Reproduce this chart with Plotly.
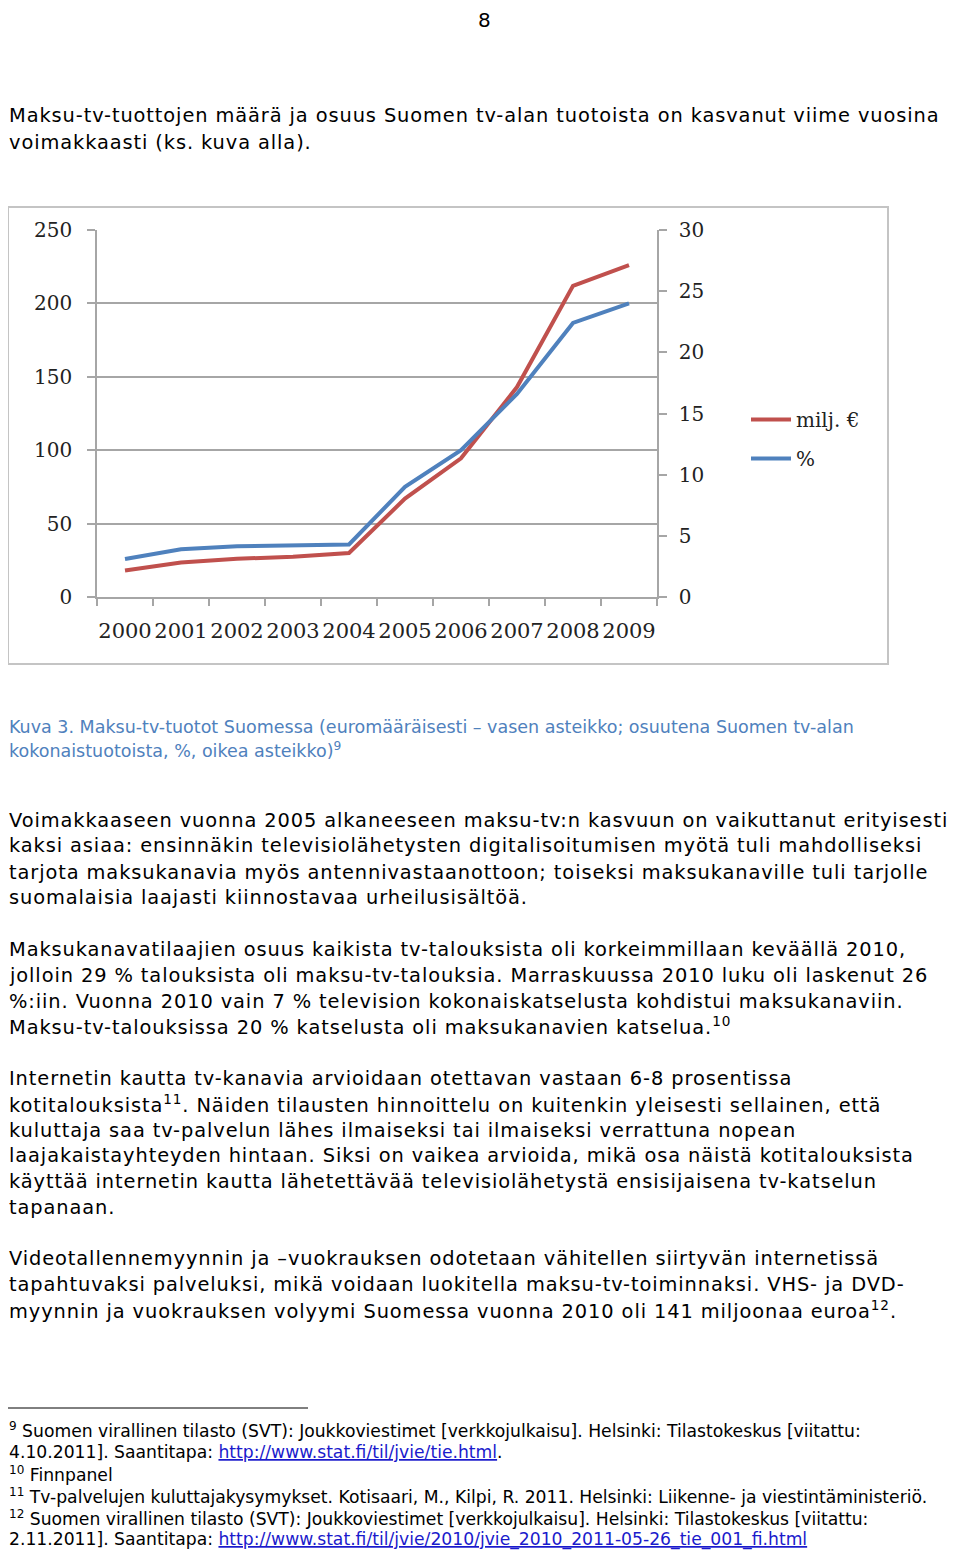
import plotly.graph_objects as go

# The page body has an 8px margin; keep the figure inside the 960x1558 window.
OFF = 8
W, H = 960 - 2 * OFF, 1558 - 2 * OFF

# ---- chart data ----
years = ["2000", "2001", "2002", "2003", "2004", "2005", "2006", "2007", "2008", "2009"]
milj_eur = [18, 23.5, 26, 27.5, 30, 67, 94.5, 143, 212, 226]
osuus_pct = [3.1, 3.9, 4.15, 4.2, 4.3, 9.0, 12.0, 16.6, 22.4, 24.0]
left_ticks = [0, 50, 100, 150, 200, 250]
right_ticks = [0, 5, 10, 15, 20, 25, 30]
series_names = ["milj. €", "%"]

# ---- page text ----
page_number = "8"
intro_lines = [
    "Maksu-tv-tuottojen määrä ja osuus Suomen tv-alan tuotoista on kasvanut viime vuosina",
    "voimakkaasti (ks. kuva alla).",
]
caption_lines = [
    "Kuva 3. Maksu-tv-tuotot Suomessa (euromääräisesti – vasen asteikko; osuutena Suomen tv-alan",
    "kokonaistuotoista, %, oikea asteikko)<sup>9</sup>",
]
para1 = [
    "Voimakkaaseen vuonna 2005 alkaneeseen maksu-tv:n kasvuun on vaikuttanut erityisesti",
    "kaksi asiaa: ensinnäkin televisiolähetysten digitalisoitumisen myötä tuli mahdolliseksi",
    "tarjota maksukanavia myös antennivastaanottoon; toiseksi maksukanaville tuli tarjolle",
    "suomalaisia laajasti kiinnostavaa urheilusisältöä.",
]
para2 = [
    "Maksukanavatilaajien osuus kaikista tv-talouksista oli korkeimmillaan keväällä 2010,",
    "jolloin 29 % talouksista oli maksu-tv-talouksia. Marraskuussa 2010 luku oli laskenut 26",
    "%:iin. Vuonna 2010 vain 7 % television kokonaiskatselusta kohdistui maksukanaviin.",
    "Maksu-tv-talouksissa 20 % katselusta oli maksukanavien katselua.<sup>10</sup>",
]
para3 = [
    "Internetin kautta tv-kanavia arvioidaan otettavan vastaan 6-8 prosentissa",
    "kotitalouksista<sup>11</sup>. Näiden tilausten hinnoittelu on kuitenkin yleisesti sellainen, että",
    "kuluttaja saa tv-palvelun lähes ilmaiseksi tai ilmaiseksi verrattuna nopean",
    "laajakaistayhteyden hintaan. Siksi on vaikea arvioida, mikä osa näistä kotitalouksista",
    "käyttää internetin kautta lähetettävää televisiolähetystä ensisijaisena tv-katselun",
    "tapanaan.",
]
para4 = [
    "Videotallennemyynnin ja –vuokrauksen odotetaan vähitellen siirtyvän internetissä",
    "tapahtuvaksi palveluksi, mikä voidaan luokitella maksu-tv-toiminnaksi. VHS- ja DVD-",
    "myynnin ja vuokrauksen volyymi Suomessa vuonna 2010 oli 141 miljoonaa euroa<sup>12</sup>.",
]
LINK = '<span style="color:#1a1acc;text-decoration:underline">{}</span>'
footnotes = [
    "<sup>9</sup> Suomen virallinen tilasto (SVT): Joukkoviestimet [verkkojulkaisu]. Helsinki: Tilastokeskus [viitattu:",
    "4.10.2011]. Saantitapa: " + LINK.format("http://www.stat.fi/til/jvie/tie.html") + ".",
    "<sup>10</sup> Finnpanel",
    "<sup>11</sup> Tv-palvelujen kuluttajakysymykset. Kotisaari, M., Kilpi, R. 2011. Helsinki: Liikenne- ja viestintäministeriö.",
    "<sup>12</sup> Suomen virallinen tilasto (SVT): Joukkoviestimet [verkkojulkaisu]. Helsinki: Tilastokeskus [viitattu:",
    "2.11.2011]. Saantitapa: " + LINK.format("http://www.stat.fi/til/jvie/2010/jvie_2010_2011-05-26_tie_001_fi.html"),
]


def px(x):
    return (x - OFF) / W


def py(y):
    return 1 - (y - OFF) / H


RED = "#c0504d"
BLUE = "#4f81bd"
AXC = "#a6a6a6"
SERIF = "DejaVu Serif"
BODY = "DejaVu Sans"

fig = go.Figure()
fig.add_trace(go.Scatter(x=years, y=milj_eur, name=series_names[0], mode="lines",
                         line=dict(color=RED, width=4), legendgroup="a", yaxis="y"))
fig.add_trace(go.Scatter(x=years, y=osuus_pct, name=series_names[1], mode="lines",
                         line=dict(color=BLUE, width=4), legendgroup="b", yaxis="y2"))

fig.update_layout(
    width=W, height=H,
    margin=dict(l=0, r=0, t=0, b=0, autoexpand=False),
    paper_bgcolor="white", plot_bgcolor="white",
    xaxis=dict(
        type="category", domain=[px(97), px(657)], automargin=False,
        range=[-0.5, len(years) - 0.5],
        showline=True, linecolor=AXC, linewidth=1.5,
        ticks="outside", tickson="boundaries", ticklen=7, tickcolor=AXC, tickwidth=1.5,
        showgrid=False, tickfont=dict(family=SERIF, size=21, color="#222"),
        tickangle=0, ticklabelstandoff=14, fixedrange=True,
    ),
    yaxis=dict(
        domain=[py(597), py(230)], range=[0, 250], tickvals=left_ticks, automargin=False,
        showline=True, linecolor=AXC, linewidth=1.5,
        ticks="outside", ticklen=8, tickcolor=AXC, tickwidth=1.5,
        showgrid=True, gridcolor=AXC, gridwidth=1.5, zeroline=False,
        tickfont=dict(family=SERIF, size=20, color="#222"),
        ticklabelstandoff=11,
    ),
    yaxis2=dict(
        overlaying="y", side="right", anchor="x", range=[0, 30], tickvals=right_ticks,
        automargin=False,
        showline=True, linecolor=AXC, linewidth=1.5,
        ticks="outside", ticklen=8, tickcolor=AXC, tickwidth=1.5,
        showgrid=False, zeroline=False,
        tickfont=dict(family=SERIF, size=20, color="#222"),
        ticklabelstandoff=8,
    ),
    legend=dict(
        x=px(746), y=py(400), xanchor="left", yanchor="top",
        font=dict(family=SERIF, size=20, color="#222"),
        bgcolor="rgba(0,0,0,0)", traceorder="grouped", tracegroupgap=10,
        itemwidth=40,
    ),
    showlegend=True,
)

# chart frame
fig.add_shape(type="rect", xref="paper", yref="paper",
              x0=px(8), x1=px(888), y0=py(664), y1=py(207),
              line=dict(color="#c4c4c4", width=2), fillcolor="rgba(0,0,0,0)", layer="below")

# footnote separator
fig.add_shape(type="line", xref="paper", yref="paper",
              x0=px(8), x1=px(308), y0=py(1408), y1=py(1408),
              line=dict(color="black", width=1))


def add_lines(lines, ys, x=8, size=19.4, family=BODY, color="black", spacing=0.9):
    for t, y in zip(lines, ys):
        txt = '<span style="letter-spacing:%spx">%s</span>' % (spacing, t) if spacing else t
        fig.add_annotation(text=txt, xref="paper", yref="paper", x=px(x), y=py(y),
                           xanchor="left", yanchor="middle", showarrow=False,
                           font=dict(family=family, size=size, color=color), borderpad=0)


fig.add_annotation(text=page_number, xref="paper", yref="paper", x=px(484), y=py(20),
                   xanchor="center", yanchor="middle", showarrow=False,
                   font=dict(family=BODY, size=20, color="black"))

add_lines(intro_lines, [116, 142])
add_lines(caption_lines, [727, 750], size=17.5, color=BLUE, spacing=0)
add_lines(para1, [820, 846, 872, 898])
add_lines(para2, [949, 975, 1001, 1026])
add_lines(para3, [1078, 1104, 1130, 1155, 1181, 1207])
add_lines(para4, [1258, 1284, 1310])
add_lines(footnotes, [1430, 1452, 1474, 1496, 1518, 1539], size=17.2, spacing=0)

fig.write_html("out.html")
